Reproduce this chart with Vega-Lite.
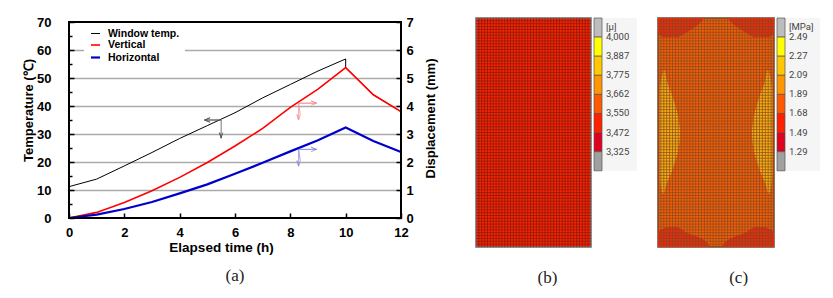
{"$schema":"https://vega.github.io/schema/vega-lite/v6.json","padding":{"left":22,"top":16,"right":0,"bottom":0},"background":"white","autosize":{"type":"pad"},"config":{"view":{"stroke":null},"font":"Liberation Sans","title":{"font":"Liberation Serif","fontSize":17,"fontWeight":"normal","color":"#222"}},
"datasets":{"lines":[
{"time":0,"series":"Window temp.","value":11.2},{"time":1,"series":"Window temp.","value":13.9},{"time":2,"series":"Window temp.","value":18.6},{"time":3,"series":"Window temp.","value":23.4},{"time":4,"series":"Window temp.","value":28.4},{"time":5,"series":"Window temp.","value":33},{"time":6,"series":"Window temp.","value":37.6},{"time":7,"series":"Window temp.","value":42.9},{"time":8,"series":"Window temp.","value":47.7},{"time":9,"series":"Window temp.","value":52.5},{"time":10,"series":"Window temp.","value":56.8},{"time":10,"series":"Window temp.","value":53.7},{"time":11,"series":"Window temp.","value":44},{"time":12,"series":"Window temp.","value":38},
{"time":0,"series":"Vertical","value":0},{"time":1,"series":"Vertical","value":0.2},{"time":2,"series":"Vertical","value":0.55},{"time":3,"series":"Vertical","value":0.97},{"time":4,"series":"Vertical","value":1.45},{"time":5,"series":"Vertical","value":1.98},{"time":6,"series":"Vertical","value":2.57},{"time":7,"series":"Vertical","value":3.2},{"time":8,"series":"Vertical","value":3.95},{"time":9,"series":"Vertical","value":4.6},{"time":10,"series":"Vertical","value":5.37},{"time":11,"series":"Vertical","value":4.4},{"time":12,"series":"Vertical","value":3.8},
{"time":0,"series":"Horizontal","value":0},{"time":1,"series":"Horizontal","value":0.12},{"time":2,"series":"Horizontal","value":0.32},{"time":3,"series":"Horizontal","value":0.57},{"time":4,"series":"Horizontal","value":0.88},{"time":5,"series":"Horizontal","value":1.2},{"time":6,"series":"Horizontal","value":1.58},{"time":7,"series":"Horizontal","value":1.97},{"time":8,"series":"Horizontal","value":2.38},{"time":9,"series":"Horizontal","value":2.78},{"time":10,"series":"Horizontal","value":3.23},{"time":11,"series":"Horizontal","value":2.75},{"time":12,"series":"Horizontal","value":2.36}],
"arrows":[
{"arrow":"black","seq":1,"time":5.5,"value":35},{"arrow":"black","seq":2,"time":4.9,"value":35},{"arrow":"black","seq":3,"time":5.1,"value":35.8},{"arrow":"black","seq":4,"time":4.9,"value":35},{"arrow":"black","seq":5,"time":5.1,"value":34.2},{"arrow":"black","seq":6,"time":4.9,"value":35},{"arrow":"black","seq":7,"time":5.5,"value":35},{"arrow":"black","seq":8,"time":5.5,"value":28.5},{"arrow":"black","seq":9,"time":5.44,"value":30.5},{"arrow":"black","seq":10,"time":5.5,"value":28.5},{"arrow":"black","seq":11,"time":5.56,"value":30.5},
{"arrow":"red","seq":1,"time":8.95,"value":41},{"arrow":"red","seq":2,"time":8.3,"value":41},{"arrow":"red","seq":3,"time":8.3,"value":35},{"arrow":"red","seq":4,"time":8.24,"value":37},{"arrow":"red","seq":5,"time":8.3,"value":35},{"arrow":"red","seq":6,"time":8.36,"value":37},{"arrow":"red","seq":7,"time":8.3,"value":41},{"arrow":"red","seq":8,"time":8.95,"value":41},{"arrow":"red","seq":9,"time":8.75,"value":41.8},{"arrow":"red","seq":10,"time":8.95,"value":41},{"arrow":"red","seq":11,"time":8.75,"value":40.2},
{"arrow":"blue","seq":1,"time":8.95,"value":24.5},{"arrow":"blue","seq":2,"time":8.3,"value":24.5},{"arrow":"blue","seq":3,"time":8.3,"value":18.5},{"arrow":"blue","seq":4,"time":8.24,"value":20.5},{"arrow":"blue","seq":5,"time":8.3,"value":18.5},{"arrow":"blue","seq":6,"time":8.36,"value":20.5},{"arrow":"blue","seq":7,"time":8.3,"value":24.5},{"arrow":"blue","seq":8,"time":8.95,"value":24.5},{"arrow":"blue","seq":9,"time":8.75,"value":25.3},{"arrow":"blue","seq":10,"time":8.95,"value":24.5},{"arrow":"blue","seq":11,"time":8.75,"value":23.7}],
"frame":[{"t0":0,"t1":12,"v0":0,"v1":70}],
"panel":[{"x0":0,"x1":40,"y0":0,"y1":80}],
"gridx":[{"v":1},{"v":2},{"v":3},{"v":4},{"v":5},{"v":6},{"v":7},{"v":8},{"v":9},{"v":10},{"v":11},{"v":12},{"v":13},{"v":14},{"v":15},{"v":16},{"v":17},{"v":18},{"v":19},{"v":20},{"v":21},{"v":22},{"v":23},{"v":24},{"v":25},{"v":26},{"v":27},{"v":28},{"v":29},{"v":30},{"v":31},{"v":32},{"v":33},{"v":34},{"v":35},{"v":36},{"v":37},{"v":38},{"v":39}],
"gridy":[{"v":1},{"v":2},{"v":3},{"v":4},{"v":5},{"v":6},{"v":7},{"v":8},{"v":9},{"v":10},{"v":11},{"v":12},{"v":13},{"v":14},{"v":15},{"v":16},{"v":17},{"v":18},{"v":19},{"v":20},{"v":21},{"v":22},{"v":23},{"v":24},{"v":25},{"v":26},{"v":27},{"v":28},{"v":29},{"v":30},{"v":31},{"v":32},{"v":33},{"v":34},{"v":35},{"v":36},{"v":37},{"v":38},{"v":39},{"v":40},{"v":41},{"v":42},{"v":43},{"v":44},{"v":45},{"v":46},{"v":47},{"v":48},{"v":49},{"v":50},{"v":51},{"v":52},{"v":53},{"v":54},{"v":55},{"v":56},{"v":57},{"v":58},{"v":59},{"v":60},{"v":61},{"v":62},{"v":63},{"v":64},{"v":65},{"v":66},{"v":67},{"v":68},{"v":69},{"v":70},{"v":71},{"v":72},{"v":73},{"v":74},{"v":75},{"v":76},{"v":77},{"v":78},{"v":79}],
"bins":[{"b0":0,"b1":1,"level":"over"},{"b0":1,"b1":2,"level":"l7"},{"b0":2,"b1":3,"level":"l6"},{"b0":3,"b1":4,"level":"l5"},{"b0":4,"b1":5,"level":"l4"},{"b0":5,"b1":6,"level":"l3"},{"b0":6,"b1":7,"level":"l2"},{"b0":7,"b1":8,"level":"under"}],
"barbg":[{"a0":0,"a1":43,"b0":0,"b1":8}],
"zones":[
{"zone":"L","region":"lens","y":18.4,"x0":1.8,"x1":2.4},{"zone":"L","region":"lens","y":22,"x0":1,"x1":3.1},{"zone":"L","region":"lens","y":26,"x0":0.6,"x1":4.5},{"zone":"L","region":"lens","y":30,"x0":0.6,"x1":5.9},{"zone":"L","region":"lens","y":35,"x0":0.6,"x1":7},{"zone":"L","region":"lens","y":40,"x0":0.6,"x1":7.6},{"zone":"L","region":"lens","y":45,"x0":0.6,"x1":7.2},{"zone":"L","region":"lens","y":50,"x0":0.6,"x1":6},{"zone":"L","region":"lens","y":55,"x0":0.6,"x1":4.2},{"zone":"L","region":"lens","y":58,"x0":0.8,"x1":3},{"zone":"L","region":"lens","y":61.4,"x0":1.6,"x1":2},
{"zone":"R","region":"lens","y":18.4,"x0":37.6,"x1":38.2},{"zone":"R","region":"lens","y":22,"x0":36.9,"x1":39},{"zone":"R","region":"lens","y":26,"x0":35.5,"x1":39.4},{"zone":"R","region":"lens","y":30,"x0":34.1,"x1":39.4},{"zone":"R","region":"lens","y":35,"x0":33,"x1":39.4},{"zone":"R","region":"lens","y":40,"x0":32.4,"x1":39.4},{"zone":"R","region":"lens","y":45,"x0":32.8,"x1":39.4},{"zone":"R","region":"lens","y":50,"x0":34,"x1":39.4},{"zone":"R","region":"lens","y":55,"x0":35.8,"x1":39.4},{"zone":"R","region":"lens","y":58,"x0":37,"x1":39.2},{"zone":"R","region":"lens","y":61.4,"x0":38,"x1":38.4},
{"zone":"TL","region":"corner","y":0,"x0":0,"x1":16},{"zone":"TL","region":"corner","y":3,"x0":0,"x1":13},{"zone":"TL","region":"corner","y":5,"x0":0,"x1":10},{"zone":"TL","region":"corner","y":6.7,"x0":1.5,"x1":7},
{"zone":"TR","region":"corner","y":0,"x0":24,"x1":40},{"zone":"TR","region":"corner","y":3,"x0":27,"x1":40},{"zone":"TR","region":"corner","y":5,"x0":30,"x1":40},{"zone":"TR","region":"corner","y":6.7,"x0":33,"x1":38.5},
{"zone":"BL","region":"corner","y":73,"x0":3,"x1":7},{"zone":"BL","region":"corner","y":75,"x0":0,"x1":10},{"zone":"BL","region":"corner","y":77,"x0":0,"x1":15},{"zone":"BL","region":"corner","y":80,"x0":0,"x1":18},
{"zone":"BR","region":"corner","y":73,"x0":33,"x1":37},{"zone":"BR","region":"corner","y":75,"x0":30,"x1":40},{"zone":"BR","region":"corner","y":77,"x0":25,"x1":40},{"zone":"BR","region":"corner","y":80,"x0":22,"x1":40}]},
"hconcat":[
{"width":332,"height":200,"title":{"text":"(a)","orient":"bottom","offset":14,"anchor":"middle"},
"layer":[
{"data":{"name":"lines"},"transform":[{"filter":"datum.series == 'Window temp.'"}],"mark":{"type":"line"},"encoding":{
"x":{"field":"time","type":"quantitative","scale":{"domain":[0,12],"nice":false},"axis":{"values":[0,1,2,3,4,5,6,7,8,9,10,11,12],"grid":false,"domain":false,"labelExpr":"datum.value % 2 ? '' : datum.label","tickSize":{"condition":{"test":"datum.value % 2","value":-3},"value":-5},"tickColor":"black","tickWidth":1.5,"labelColor":"black","labelFontSize":13,"labelFontWeight":"bold","labelPadding":13,"labelFlush":false,"title":"Elapsed time (h)","titleFontSize":13.5,"titleFontWeight":"bold","titleColor":"black","titlePadding":1,"titleX":152}},
"y":{"field":"value","type":"quantitative","scale":{"domain":[0,71.43],"nice":false},"axis":{"orient":"left","values":[0,5,10,15,20,25,30,35,40,45,50,55,60,65,70],"domain":false,"labelExpr":"datum.value % 10 ? '' : datum.label","tickSize":{"condition":{"test":"datum.value % 10","value":-3},"value":-5},"tickColor":"black","tickWidth":1.5,"labelColor":"black","labelFontSize":13,"labelFontWeight":"bold","labelPadding":23,"grid":true,"gridColor":{"condition":{"test":"datum.value % 10 || datum.value == 0 || datum.value == 70","value":"transparent"},"value":"#aaaaaa"},"gridWidth":1.5,"title":"Temperature (℃)","titleFontSize":13,"titleFontWeight":"bold","titleColor":"black","titlePadding":1,"titleY":92}},
"color":{"field":"series","type":"nominal","scale":{"domain":["Window temp.","Vertical","Horizontal"],"range":["#000000","#FF0000","#0000CC"]},"legend":{"orient":"none","legendX":15,"legendY":5,"title":null,"fillColor":"white","symbolType":"M-0.9,0H0.9","symbolSize":100,"labelFontSize":10.5,"labelFontWeight":"bold","labelColor":"black","rowPadding":0,"padding":5,"labelOffset":6}},
"strokeWidth":{"field":"series","type":"nominal","scale":{"domain":["Window temp.","Vertical","Horizontal"],"range":[1,2.2,2.2]}}}},
{"data":{"name":"lines"},"transform":[{"filter":"datum.series != 'Window temp.'"}],"mark":{"type":"line"},"encoding":{
"x":{"field":"time","type":"quantitative"},
"y":{"field":"value","type":"quantitative","scale":{"domain":[0,7.143],"nice":false},"axis":{"orient":"right","values":[0,1,2,3,4,5,6,7],"grid":false,"domain":false,"tickSize":-5,"tickColor":"black","tickWidth":1.5,"labelColor":"black","labelFontSize":13,"labelFontWeight":"bold","labelPadding":10,"title":"Displacement (mm)","titleAngle":270,"titleBaseline":"bottom","titleFontSize":13,"titleFontWeight":"bold","titleColor":"black","titlePadding":24}},
"color":{"field":"series","type":"nominal"},"strokeWidth":{"field":"series","type":"nominal"}}},
{"data":{"name":"arrows"},"transform":[{"filter":"datum.arrow == 'black'"}],"mark":{"type":"line","stroke":"#555555","strokeWidth":0.8},"encoding":{"x":{"field":"time","type":"quantitative"},"y":{"field":"value","type":"quantitative","scale":{"domain":[0,71.43],"nice":false},"axis":null},"order":{"field":"seq"}}},
{"data":{"name":"arrows"},"transform":[{"filter":"datum.arrow == 'red'"}],"mark":{"type":"line","stroke":"#F79090","strokeWidth":0.8},"encoding":{"x":{"field":"time","type":"quantitative"},"y":{"field":"value","type":"quantitative","scale":{"domain":[0,71.43],"nice":false},"axis":null},"order":{"field":"seq"}}},
{"data":{"name":"arrows"},"transform":[{"filter":"datum.arrow == 'blue'"}],"mark":{"type":"line","stroke":"#8F8FE0","strokeWidth":0.8},"encoding":{"x":{"field":"time","type":"quantitative"},"y":{"field":"value","type":"quantitative","scale":{"domain":[0,71.43],"nice":false},"axis":null},"order":{"field":"seq"}}},
{"data":{"name":"frame"},"mark":{"type":"rect","fill":"transparent","stroke":"black","strokeWidth":2},"encoding":{"x":{"field":"t0","type":"quantitative"},"x2":{"field":"t1"},"y":{"field":"v0","type":"quantitative","scale":{"domain":[0,71.43],"nice":false},"axis":null},"y2":{"field":"v1"}}}
],"resolve":{"scale":{"y":"independent"},"axis":{"y":"independent"}}},
{"title":{"text":"(b)","orient":"bottom","offset":22,"anchor":"middle"},"spacing":1,"hconcat":[
{"width":133,"height":229,"layer":[
{"data":{"name":"panel"},"mark":{"type":"rect","fill":"#FF2200","stroke":"#6b6b6b","strokeWidth":1.5},"encoding":{"x":{"field":"x0","type":"quantitative","scale":{"domain":[-6.26,40],"nice":false},"axis":null},"x2":{"field":"x1"},"y":{"field":"y0","type":"quantitative","scale":{"domain":[0,80],"nice":false,"reverse":true},"axis":null},"y2":{"field":"y1"}}},
{"data":{"name":"gridx"},"mark":{"type":"rule","stroke":"#7a1c10","strokeWidth":1,"strokeOpacity":0.7},"encoding":{"x":{"field":"v","type":"quantitative"},"y":{"datum":0},"y2":{"datum":80}}},
{"data":{"name":"gridy"},"mark":{"type":"rule","stroke":"#7a1c10","strokeWidth":1,"strokeOpacity":0.7},"encoding":{"y":{"field":"v","type":"quantitative"},"x":{"datum":0},"x2":{"datum":40}}}]},
{"width":43,"height":229,"layer":[
{"data":{"name":"barbg"},"mark":{"type":"rect","fill":"#F5F5F5"},"encoding":{"x":{"field":"a0","type":"quantitative","scale":{"domain":[0,43],"nice":false},"axis":null},"x2":{"field":"a1"},"y":{"field":"b0","type":"quantitative","scale":{"domain":[0,11.99],"nice":false,"reverse":true},"axis":null},"y2":{"field":"b1"}}},
{"data":{"name":"bins"},"mark":{"type":"rect","stroke":"#555555","strokeWidth":0.7},"encoding":{"x":{"datum":0},"x2":{"datum":8},"y":{"field":"b0","type":"quantitative"},"y2":{"field":"b1"},"fill":{"field":"level","type":"nominal","legend":null,"scale":{"domain":["over","l7","l6","l5","l4","l3","l2","under"],"range":["#BDBDBD","#FFFF00","#FFC800","#FF9600","#FF5A00","#FF2000","#E00020","#A0A0A0"]}}}},
{"data":{"values":[{"pos":0.45,"label":"[μ]"},{"pos":1,"label":"4,000"},{"pos":2,"label":"3,887"},{"pos":3,"label":"3,775"},{"pos":4,"label":"3,662"},{"pos":5,"label":"3,550"},{"pos":6,"label":"3,472"},{"pos":7,"label":"3,325"}]},"mark":{"type":"text","align":"left","font":"Roboto","fontSize":9.5,"color":"#444444"},"encoding":{"x":{"datum":12},"y":{"field":"pos","type":"quantitative"},"text":{"field":"label"}}}
]}]},
{"title":{"text":"(c)","orient":"bottom","offset":22,"anchor":"middle"},"spacing":1,"hconcat":[
{"width":116,"height":229,"layer":[
{"data":{"name":"panel"},"mark":{"type":"rect","fill":"#F85C08","stroke":"#6b4a30","strokeWidth":1.5},"encoding":{"x":{"field":"x0","type":"quantitative","scale":{"domain":[0,40],"nice":false},"axis":null},"x2":{"field":"x1"},"y":{"field":"y0","type":"quantitative","scale":{"domain":[0,80],"nice":false,"reverse":true},"axis":null},"y2":{"field":"y1"}}},
{"data":{"name":"zones"},"transform":[{"filter":"datum.region == 'lens'"}],"mark":{"type":"area","orient":"horizontal","interpolate":"monotone","fill":"#FCAC10"},"encoding":{"y":{"field":"y","type":"quantitative"},"x":{"field":"x0","type":"quantitative"},"x2":{"field":"x1"},"detail":{"field":"zone"}}},
{"data":{"name":"zones"},"transform":[{"filter":"datum.region == 'corner'"}],"mark":{"type":"area","orient":"horizontal","interpolate":"monotone","fill":"#EE2A10"},"encoding":{"y":{"field":"y","type":"quantitative"},"x":{"field":"x0","type":"quantitative"},"x2":{"field":"x1"},"detail":{"field":"zone"}}},
{"data":{"name":"gridx"},"mark":{"type":"rule","stroke":"#7a4a20","strokeWidth":1,"strokeOpacity":0.65},"encoding":{"x":{"field":"v","type":"quantitative"},"y":{"datum":0},"y2":{"datum":80}}},
{"data":{"name":"gridy"},"mark":{"type":"rule","stroke":"#7a4a20","strokeWidth":1,"strokeOpacity":0.65},"encoding":{"y":{"field":"v","type":"quantitative"},"x":{"datum":0},"x2":{"datum":40}}}
]},
{"width":43,"height":229,"layer":[
{"data":{"name":"barbg"},"mark":{"type":"rect","fill":"#F5F5F5"},"encoding":{"x":{"field":"a0","type":"quantitative","scale":{"domain":[0,43],"nice":false},"axis":null},"x2":{"field":"a1"},"y":{"field":"b0","type":"quantitative","scale":{"domain":[0,11.99],"nice":false,"reverse":true},"axis":null},"y2":{"field":"b1"}}},
{"data":{"name":"bins"},"mark":{"type":"rect","stroke":"#555555","strokeWidth":0.7},"encoding":{"x":{"datum":0},"x2":{"datum":8},"y":{"field":"b0","type":"quantitative"},"y2":{"field":"b1"},"fill":{"field":"level","type":"nominal","legend":null}}},
{"data":{"values":[{"pos":0.45,"label":"[MPa]"},{"pos":1,"label":"2.49"},{"pos":2,"label":"2.27"},{"pos":3,"label":"2.09"},{"pos":4,"label":"1.89"},{"pos":5,"label":"1.68"},{"pos":6,"label":"1.49"},{"pos":7,"label":"1.29"}]},"mark":{"type":"text","align":"left","font":"Roboto","fontSize":9.5,"color":"#444444"},"encoding":{"x":{"datum":12},"y":{"field":"pos","type":"quantitative"},"text":{"field":"label"}}}
]}]}
],"spacing":20}
